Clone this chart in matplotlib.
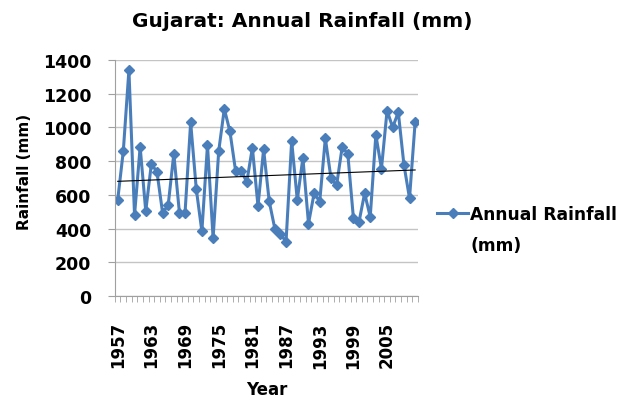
import numpy as np
import matplotlib
matplotlib.use('Agg')
import matplotlib.pyplot as plt
from matplotlib.ticker import MultipleLocator, FixedLocator

years = list(range(1957, 2011))
rainfall = [570, 860, 1340, 480, 884, 504, 784, 736, 494, 540,
            844, 494, 494, 1030, 636, 384, 896, 344, 860, 1110,
            976, 744, 744, 676, 880, 534, 870, 562, 400, 366,
            324, 920, 570, 820, 430, 610, 560, 936, 700, 656,
            884, 844, 464, 440, 610, 470, 956, 756, 1100, 1000,
            1090, 780, 580, 1030]
tick_years = list(range(1957, 2011, 6))

plt.rcParams['font.family'] = ['DejaVu Sans']
plt.rcParams['font.weight'] = 'bold'

blue = '#4A7EBB'

fig = plt.figure(figsize=(6.21, 4.06), dpi=100)
ax = fig.add_axes([0.185, 0.268, 0.488, 0.582])

line, = ax.plot(years, rainfall, color=blue, lw=2.2, marker='D', ms=5.5)

# linear trend line
k, b = np.polyfit(years, rainfall, 1)
ax.plot([years[0], years[-1]], [k * years[0] + b, k * years[-1] + b],
        color='black', lw=0.8)

ax.set_xlim(years[0] - 0.5, years[-1] + 0.5)
ax.set_ylim(0, 1400)
ax.yaxis.set_major_locator(MultipleLocator(200))
ax.grid(axis='y', color='#C4C4C4', lw=1)
ax.set_axisbelow(True)

ax.set_xticks(tick_years)
ax.set_xticklabels([str(y) for y in tick_years], rotation=90)
ax.xaxis.set_minor_locator(FixedLocator(np.arange(years[0] - 0.5, years[-1] + 1, 1)))
ax.tick_params(axis='x', which='major', length=0, pad=18, labelsize=12)
ax.tick_params(axis='x', which='minor', length=4, color='#A0A0A0')
ax.tick_params(axis='y', length=5, color='#A0A0A0', labelsize=12.5, pad=12)

for s in ['top', 'right']:
    ax.spines[s].set_visible(False)
for s in ['left', 'bottom']:
    ax.spines[s].set_color('#A0A0A0')

fig.text(0.486, 0.933, 'Gujarat: Annual Rainfall (mm)', fontsize=14.5,
         fontweight='bold', ha='center', va='baseline')
ax.set_xlabel('Year', fontsize=12, fontweight='bold', labelpad=9)
ax.set_ylabel('Rainfall (mm)', fontsize=11, fontweight='bold')
ax.yaxis.set_label_coords(-0.274, 0.53)

leg = fig.legend([line], ['Annual Rainfall'], loc='upper left',
                 bbox_to_anchor=(0.704, 0.493), frameon=False,
                 borderpad=0, borderaxespad=0,
                 handlelength=1.8, handletextpad=0.15,
                 prop={'weight': 'bold', 'size': 12.3})
fig.text(0.757, 0.382, '(mm)', fontsize=12.3, fontweight='bold', va='baseline')

fig.savefig('out.png', dpi=100)
